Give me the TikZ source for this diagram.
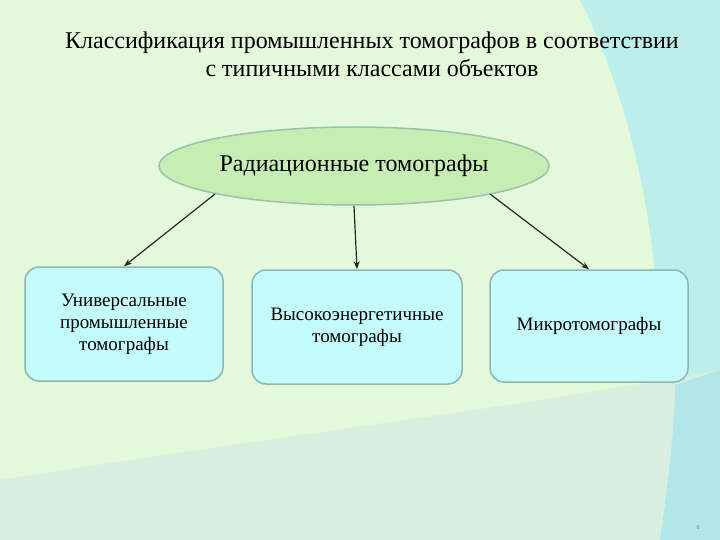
\documentclass[tikz,border=0pt]{standalone}
\usepackage{fontspec}
\setmainfont{Liberation Serif}
\usetikzlibrary{shapes.geometric,arrows.meta}
\definecolor{bgg}{HTML}{E4F8DA}
\definecolor{bgc}{HTML}{BDEFEA}
\definecolor{bgb}{HTML}{D8EFDF}
\definecolor{bgb2}{HTML}{B2E6E8}
\definecolor{ellf}{HTML}{C6EDB4}
\definecolor{elld}{HTML}{95C6A8}
\definecolor{boxf}{HTML}{C4FCFC}
\definecolor{boxd}{HTML}{8CB6B6}
\tikzset{
  box/.style={draw=boxd,line width=1.5pt,fill=boxf,rounded corners=14pt,align=center,font=\fontsize{19}{22}\selectfont},
  conn/.style={-{Stealth[length=8pt,width=6pt]},line width=1.2pt,black!85}
}
\begin{document}
\begin{tikzpicture}[x=1pt,y=-1pt]
\useasboundingbox (0,0) rectangle (720,540);
\fill[bgc] (0,0) rectangle (720,540);
\fill[bgg] (0,0) -- (580,0) .. controls (640,120) and (680,300) .. (650,540) -- (0,540) -- cycle;
\fill[bgb] (0,540) -- (0,480) .. controls (250,440) and (500,410) .. (720,370) -- (720,540) -- cycle;
\fill[bgb2] (660,540) .. controls (670,470) and (675,420) .. (675,385) -- (720,370) -- (720,540) -- cycle;
\node[font=\fontsize{24}{28}\selectfont,align=center] (t) at (372,54) {Классификация промышленных томографов в соответствии\\с типичными классами объектов};
\node[ellipse,draw=elld,line width=1.5pt,fill=ellf,minimum width=390pt,minimum height=78pt,font=\fontsize{24}{26}\selectfont] (e) at (354,166) {Радиационные томографы};
\node[box,minimum width=198pt,minimum height=114pt] (b1) at (124,324) {Универсальные\\промышленные\\томографы};
\node[box,minimum width=210pt,minimum height=114pt] (b2) at (357,327) {Высокоэнергетичные\\томографы};
\node[box,minimum width=198pt,minimum height=112pt] (b3) at (589,326) {Микротомографы};
\coordinate (a1) at (215,194);
\coordinate (a3) at (490,194);
\draw[conn] (a1) -- (b1.north);
\draw[conn] (e.south) -- (b2.north);
\draw[conn] (a3) -- (b3.north);
\node[font=\fontsize{6}{7}\selectfont,text=gray] (pg) at (698,528) {6};
\end{tikzpicture}
\end{document}
